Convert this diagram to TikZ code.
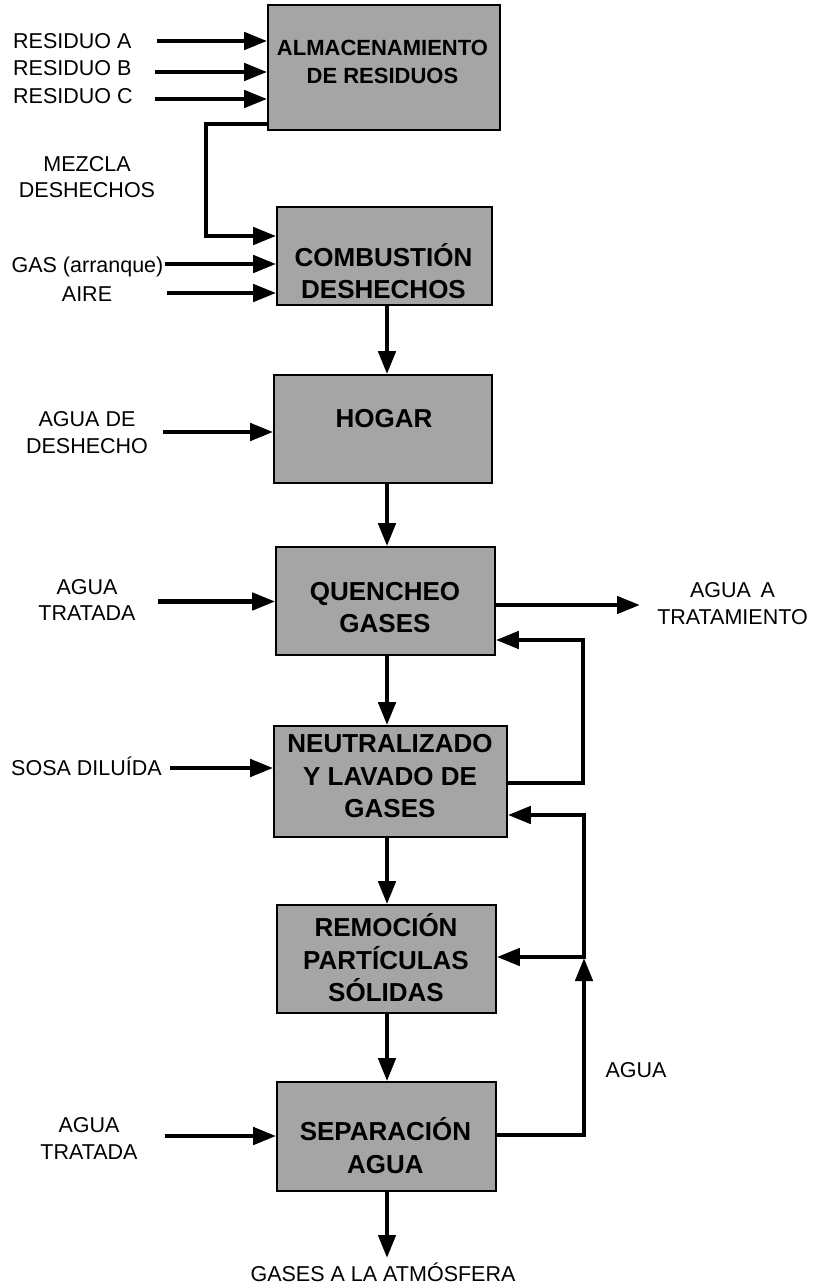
\documentclass[tikz,border=0pt]{standalone}
\usepackage{fontspec}
\setmainfont{Liberation Sans}
\usetikzlibrary{arrows.meta}
\definecolor{boxgray}{RGB}{165,165,165}
\begin{document}
\begin{tikzpicture}[x=1pt,y=-1pt,
  box/.style={draw=black, line width=1.6pt, fill=boxgray, inner sep=0pt},
  boxtext/.style={font=\fontsize{26}{32.5}\selectfont\bfseries, align=center, inner sep=0pt},
  lbl/.style={font=\fontsize{21.5}{26.5}\selectfont, align=center, inner sep=0pt},
  flow/.style={line width=4.5pt, -{Triangle[length=23pt,width=17pt]}},
  pipe/.style={line width=4.5pt}]
\useasboundingbox (0,0) rectangle (820,1287);

% boxes
\node[box, minimum width=232pt, minimum height=125pt] (alm) at (384,67.5) {};
\node[box, minimum width=215pt, minimum height=98pt] (comb) at (384.5,256) {};
\node[box, minimum width=218pt, minimum height=108pt] (hog) at (383,429) {};
\node[box, minimum width=219pt, minimum height=108pt] (que) at (385.5,601) {};
\node[box, minimum width=233pt, minimum height=111pt] (neu) at (390.5,781.5) {};
\node[box, minimum width=219pt, minimum height=108pt] (rem) at (386.5,959) {};
\node[box, minimum width=219pt, minimum height=109pt] (sep) at (386.5,1136.5) {};

% box texts
\node[boxtext, font=\fontsize{22}{28}\selectfont\bfseries] (talm) at (382.5,62) {ALMACENAMIENTO\\DE RESIDUOS};
\node[boxtext] (tcomb) at (383.5,271) {COMBUSTIÓN\\DESHECHOS};
\node[boxtext] (thog) at (384,419) {HOGAR};
\node[boxtext] (tque) at (385,607.5) {QUENCHEO\\GASES};
\node[boxtext] (tneu) at (390,776.5) {NEUTRALIZADO\\Y LAVADO DE\\GASES};
\node[boxtext] (trem) at (386,958) {REMOCIÓN\\PARTÍCULAS\\SÓLIDAS};
\node[boxtext] (tsep) at (385.5,1145.5) {SEPARACIÓN\\AGUA};

% labels
\node[lbl, anchor=base west] (lra) at (13,48.5) {RESIDUO A};
\node[lbl, anchor=base west] (lrb) at (13,76) {RESIDUO B};
\node[lbl, anchor=base west] (lrc) at (13,103.5) {RESIDUO C};
\node[lbl] (lmez) at (87,177) {MEZCLA\\DESHECHOS};
\node[lbl, anchor=base] (lgas) at (87.5,272) {GAS (arranque)};
\node[lbl, anchor=base] (laire) at (87,301) {AIRE};
\node[lbl] (lagd) at (87,432.4) {AGUA DE\\DESHECHO};
\node[lbl] (lat1) at (87,600) {AGUA\\TRATADA};
\node[lbl, anchor=base west] (lsosa) at (11,775) {SOSA DILUÍDA};
\node[lbl] (latr) at (732.5,603.5) {AGUA\, A\\TRATAMIENTO};
\node[lbl] (lagua) at (636,1070.5) {AGUA};
\node[lbl] (lat2) at (89,1138.5) {AGUA\\TRATADA};
\node[lbl, anchor=base] (lgases) at (383,1281.5) {GASES A LA ATMÓSFERA};

% coordinates
\coordinate (mx) at (387,0);
\coordinate (sa) at (157,41);
\coordinate (sb) at (155,72);
\coordinate (sc) at (155,99);
\coordinate (mz1) at (206,124);
\coordinate (mz2) at (206,236);
\coordinate (sg) at (165,264);
\coordinate (sai) at (167,293);
\coordinate (sh) at (163,432);
\coordinate (sq) at (158,601.5);
\coordinate (ss) at (170,768);
\coordinate (st) at (165,1136);
\coordinate (eat) at (640,605);
\coordinate (r1) at (583,783);
\coordinate (r2) at (583,640);
\coordinate (r3) at (584,1135);
\coordinate (rjt) at (584,958);
\coordinate (rj) at (584,957);
\coordinate (rj2) at (584,959.25);
\coordinate (r4) at (584,815);
\coordinate (eg) at (387,1258);

% inputs
\draw[flow] (sa) -- (alm.west |- sa);
\draw[flow] (sb) -- (alm.west |- sb);
\draw[flow] (sc) -- (alm.west |- sc);
\draw[flow] (alm.west |- mz1) -- (mz1) -- (mz2) -- (comb.west |- mz2);
\draw[flow] (sg) -- (comb.west |- sg);
\draw[flow] (sai) -- (comb.west |- sai);
\draw[flow] (sh) -- (hog.west |- sh);
\draw[flow] (sq) -- (que.west |- sq);
\draw[flow] (ss) -- (neu.west |- ss);
\draw[flow] (st) -- (sep.west |- st);

% main flow
\draw[flow] (comb.south -| mx) -- (hog.north -| mx);
\draw[flow] (hog.south -| mx) -- (que.north -| mx);
\draw[flow] (que.south -| mx) -- (neu.north -| mx);
\draw[flow] (neu.south -| mx) -- (rem.north -| mx);
\draw[flow] (rem.south -| mx) -- (sep.north -| mx);
\draw[flow] (sep.south -| mx) -- (eg);

% outputs and recycles
\draw[flow] (que.east |- eat) -- (eat);
\draw[flow] (neu.east |- r1) -- (r1) -- (r2) -- (que.east |- r2);
\draw[flow] (sep.east |- r3) -- (r3) -- (rjt);
\draw[flow] (rj2) -- (r4) -- (neu.east |- r4);
\draw[flow] (rj) -- (rem.east |- rj);
\end{tikzpicture}
\end{document}
